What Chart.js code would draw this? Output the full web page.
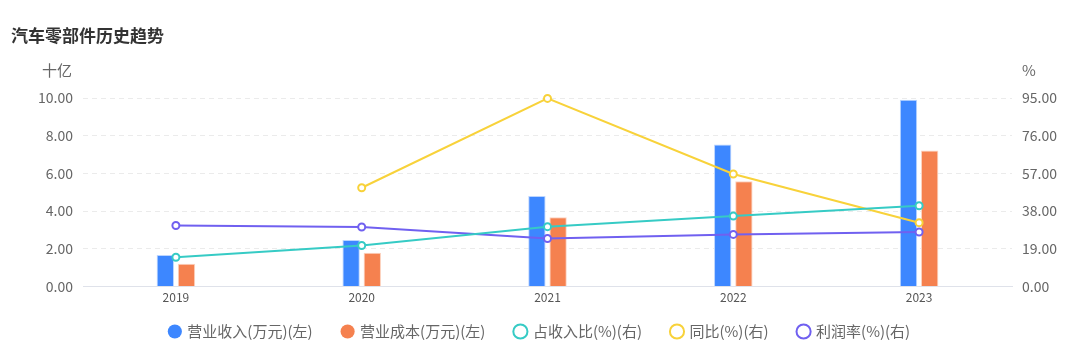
<!DOCTYPE html>
<html>
<head>
<meta charset="utf-8">
<script src="https://cdn.jsdelivr.net/npm/chart.js@4"></script>
<style>
  html, body { margin: 0; padding: 0; background: #fff; }
  #wrap { width: 1080px; height: 359px; position: relative; }
</style>
</head>
<body>
<div id="wrap"><canvas id="trendChart"></canvas></div>
<script>
// data
const years = ['2019', '2020', '2021', '2022', '2023'];
const revenue = [1.68, 2.47, 4.80, 7.53, 9.91];     // 营业收入 十亿
const cost = [1.21, 1.79, 3.68, 5.58, 7.21];        // 营业成本 十亿
const shareOfRev = [14.8, 20.7, 30.2, 35.5, 40.7];  // 占收入比 %
const yoy = [null, 49.8, 94.8, 56.7, 32.2];         // 同比 %
const margin = [30.8, 30.0, 24.2, 26.3, 27.5];      // 利润率 %

const FONT = "'Noto Sans CJK SC', 'Noto Sans', sans-serif";

// title + axis unit labels
const extraText = {
  id: 'extraText',
  afterDraw(chart) {
    const ctx = chart.ctx;
    const yl = chart.scales.y;
    const yr = chart.scales.y1;
    ctx.save();
    ctx.fillStyle = '#333';
    ctx.font = 'bold 17px ' + FONT;
    ctx.textAlign = 'left';
    ctx.textBaseline = 'middle';
    ctx.fillText('汽车零部件历史趋势', 11, 36);
    ctx.fillStyle = '#666';
    ctx.font = '15px ' + FONT;
    ctx.textAlign = 'right';
    ctx.fillText('十亿', yl.right - 11, 70);
    ctx.textAlign = 'left';
    ctx.fillText('%', yr.left + 10, 70);
    ctx.restore();
  }
};

function lineSet(label, data, color) {
  return {
    type: 'line',
    label: label,
    data: data,
    yAxisID: 'y1',
    borderColor: color,
    backgroundColor: '#fff',
    borderWidth: 2,
    pointRadius: 3.5,
    pointBorderWidth: 2,
    pointBackgroundColor: '#fff',
    pointBorderColor: color,
    tension: 0,
    spanGaps: false,
    clip: false,
    order: 0
  };
}

const ctx = document.getElementById('trendChart').getContext('2d');
const myChart = new Chart(ctx, {
  data: {
    labels: years,
    datasets: [
      {
        type: 'bar',
        label: '营业收入(万元)(左)',
        data: revenue,
        yAxisID: 'y',
        backgroundColor: '#3d87ff',
        borderColor: '#bcd5ff',
        borderWidth: 1,
        categoryPercentage: 0.228,
        barPercentage: 0.82,
        order: 1
      },
      {
        type: 'bar',
        label: '营业成本(万元)(左)',
        data: cost,
        yAxisID: 'y',
        backgroundColor: '#f5814f',
        borderColor: '#fcd2bf',
        borderWidth: 1,
        categoryPercentage: 0.228,
        barPercentage: 0.82,
        order: 1
      },
      lineSet('占收入比(%)(右)', shareOfRev, '#36cbc5'),
      lineSet('同比(%)(右)', yoy, '#f8d23a'),
      lineSet('利润率(%)(右)', margin, '#7060f0')
    ]
  },
  options: {
    responsive: true,
    maintainAspectRatio: false,
    animation: false,
    layout: { padding: { top: 98, left: 0, right: 0, bottom: 10 } },
    plugins: {
      title: { display: false },
      tooltip: { enabled: false },
      legend: {
        position: 'bottom',
        labels: {
          usePointStyle: true,
          pointStyle: 'circle',
          boxWidth: 10,
          boxHeight: 10,
          padding: 15,
          color: '#666',
          font: { family: FONT, size: 15 },
          generateLabels(chart) {
            const n = chart.data.datasets.length;
            return chart.data.datasets.map(function (ds, i) {
              const isLine = ds.type === 'line';
              const c = isLine ? ds.borderColor : ds.backgroundColor;
              return {
                // wider gap between items without a taller legend box
                text: i < n - 1 ? ds.label + '\u3000' : ds.label,
                fillStyle: isLine ? '#fff' : c,
                strokeStyle: c,
                lineWidth: isLine ? 2 : 0,
                pointStyle: 'circle',
                hidden: false,
                datasetIndex: i,
                fontColor: '#666'
              };
            });
          }
        }
      }
    },
    scales: {
      x: {
        offset: true,
        grid: { display: false, drawTicks: false },
        border: { display: true, color: '#dfe2ea', width: 1 },
        ticks: { color: '#555', font: { family: FONT, size: 12 }, padding: 4 }
      },
      y: {
        position: 'left',
        min: 0,
        max: 10,
        afterFit(scale) { scale.width = 83; },
        ticks: {
          stepSize: 2,
          color: '#666',
          padding: 10,
          font: { family: FONT, size: 14 },
          callback: function (v) { return v.toFixed(2); }
        },
        grid: { color: '#ebebeb', drawTicks: false },
        border: { display: false, dash: [5, 4] }
      },
      y1: {
        position: 'right',
        min: 0,
        max: 95,
        afterFit(scale) { scale.width = 68; },
        ticks: {
          stepSize: 19,
          color: '#666',
          padding: 10,
          font: { family: FONT, size: 14 },
          callback: function (v) { return v.toFixed(2); }
        },
        grid: { display: false, drawTicks: false },
        border: { display: false }
      }
    }
  },
  plugins: [extraText]
});
</script>
</body>
</html>
